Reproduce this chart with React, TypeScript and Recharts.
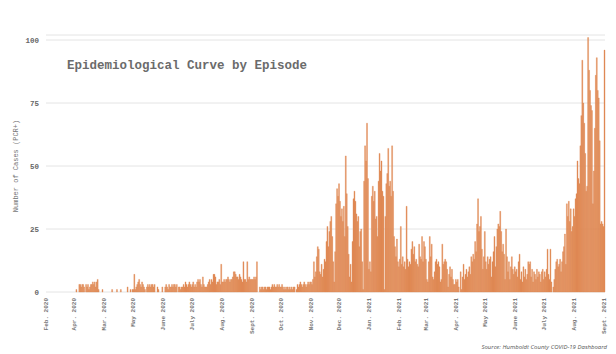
import { Bar, BarChart, CartesianGrid, XAxis, YAxis } from "recharts";

// daily PCR+ cases, one array per month, starting Feb 1 2020
const feb20 = [0,0,0,0,0,0,0,0,0,0, 0,0,0,0,0,0,0,0,0,0, 0,0,0,0,0,0,0,0,0];
const mar20 = [0,0,1,0,0,3,3,2,3,3, 2,0,3,2,3,1,2,3,3,4, 3,4,2,4,5,1,0,0,0,1, 0];
const apr20 = [0,0,0,0,0,0,0,0,1,0, 0,0,0,1,0,0,0,1,0,0, 0,0,0,0,2,0,0,1,0,1];
const may20 = [1,7,1,2,3,4,5,3,2,4, 3,2,1,0,2,3,2,3,2,3, 3,2,3,0,0,2,1,0,0,0, 2];
const jun20 = [0,0,2,3,2,1,3,2,2,3, 2,3,3,2,3,0,2,2,1,2, 2,3,2,4,3,2,3,4,3,2];
const jul20 = [3,4,2,3,2,4,5,4,5,3, 2,6,3,2,2,2,3,4,5,3, 5,4,7,7,6,3,4,4,5,3, 11];
const aug20 = [4,4,5,4,5,5,6,5,4,5, 5,6,8,8,7,6,6,5,7,6, 5,4,12,5,5,4,12,5,6,5, 5];
const sep20 = [5,5,6,5,6,12,0,0,2,1, 2,2,1,2,2,1,2,2,2,1, 2,3,2,3,2,2,3,2,3,2];
const oct20 = [2,3,2,1,2,1,2,2,1,2, 1,2,1,2,2,0,1,3,2,3, 4,3,2,3,4,3,2,3,4,3, 4];
const nov20 = [4,3,5,12,6,8,14,18,17,8, 7,11,6,9,13,12,20,26,18,24, 28,30,22,12,4,16,35,41,38,43];
const dec20 = [36,30,33,28,34,22,54,39,26,15, 6,11,4,20,37,40,36,31,28,30, 18,24,25,12,1,44,58,52,67,45, 9];
const jan21 = [12,8,38,42,36,40,29,30,22,44, 55,48,52,40,38,1,30,43,47,57, 42,44,38,58,40,22,18,14,21,12, 10];
const feb21 = [13,26,11,14,10,12,9,34,13,10, 12,11,17,20,15,18,12,13,11,10, 19,14,13,22,12,20,18,13];
const mar21 = [5,4,12,22,14,19,6,5,8,12, 13,11,12,10,4,5,19,11,12,13, 12,9,2,7,10,6,9,5,3,3, 5];
const apr21 = [4,5,2,0,8,1,6,11,5,7, 9,6,8,10,7,14,12,15,13,20, 16,27,37,24,26,30,17,9,14,24];
const may21 = [12,9,14,11,13,14,6,12,16,22, 10,18,25,27,26,32,24,16,19,15, 5,25,14,8,12,5,10,14,9,7, 10];
const jun21 = [8,9,6,12,15,5,8,4,10,6, 9,5,7,12,11,12,6,9,4,8, 7,5,9,6,8,7,4,8,9,5];
const jul21 = [8,6,9,17,7,5,17,4,0,2, 5,9,12,13,10,11,13,8,12,16, 18,23,11,35,30,36,28,33,24,26, 33];
const aug21 = [30,37,39,52,45,43,58,70,92,75, 67,55,40,42,101,88,80,74,72,35, 48,65,86,93,80,77,60,27,28,27, 26];
const sep21 = [96];

const dailyCases = [
  ...feb20, ...mar20, ...apr20, ...may20, ...jun20, ...jul20, ...aug20,
  ...sep20, ...oct20, ...nov20, ...dec20, ...jan21, ...feb21, ...mar21,
  ...apr21, ...may21, ...jun21, ...jul21, ...aug21, ...sep21,
];

const monthStarts = [
  "2020-02-01", "2020-03-01", "2020-04-01", "2020-05-01", "2020-06-01",
  "2020-07-01", "2020-08-01", "2020-09-01", "2020-10-01", "2020-11-01",
  "2020-12-01", "2021-01-01", "2021-02-01", "2021-03-01", "2021-04-01",
  "2021-05-01", "2021-06-01", "2021-07-01", "2021-08-01", "2021-09-01",
];

// labels exactly as printed on the original
const monthLabels = [
  "Feb. 2020", "Apr. 2020", "Mar. 2020", "May 2020", "June 2020",
  "July 2020", "Aug. 2020", "Sept. 2020", "Oct. 2020", "Nov. 2020",
  "Dec. 2020", "Jan. 2021", "Feb. 2021", "Mar. 2021", "Apr. 2021",
  "May 2021", "June 2021", "July 2021", "Aug. 2021", "Sept. 2021",
];

const yTicks = [0, 25, 50, 75, 100];

const MONO = "'Liberation Mono', 'DejaVu Sans Mono', monospace";
const BAR = "#e08752";

const dayKey = (i: number) =>
  new Date(Date.UTC(2020, 1, 1 + i)).toISOString().slice(0, 10);

const data = dailyCases.map((cases, i) => ({ date: dayKey(i), cases }));

function MonthTick({ x, y, payload }: any) {
  const label = monthLabels[monthStarts.indexOf(payload.value)] ?? "";
  return (
    <text
      x={x}
      y={y}
      transform={`rotate(-90 ${x} ${y})`}
      textAnchor="end"
      dominantBaseline="central"
      fontSize={6}
      fontFamily={MONO}
      fontWeight="bold"
      fill="#777"
    >
      {label}
    </text>
  );
}

export default function App() {
  return (
    <div
      style={{
        position: "absolute",
        left: 0,
        top: 0,
        width: 616,
        height: 354,
        background: "#fff",
        overflow: "hidden",
      }}
    >
      <BarChart
        width={616}
        height={354}
        data={data}
        margin={{ top: 35, right: 11, bottom: 0, left: 0 }}
        barCategoryGap={0}
      >
        <CartesianGrid vertical={false} stroke="#e4e4e4" />
        <XAxis
          dataKey="date"
          ticks={monthStarts}
          interval={0}
          height={62}
          axisLine={false}
          tickLine={false}
          tickSize={0}
          tickMargin={6}
          tick={<MonthTick />}
        />
        <YAxis
          domain={[0, 102]}
          ticks={yTicks}
          width={46}
          axisLine={false}
          tickLine={false}
          tickSize={0}
          tickMargin={7}
          tick={{ fill: "#666", fontSize: 7.5, fontFamily: MONO, fontWeight: "bold" }}
        />
        <Bar
          dataKey="cases"
          fill={BAR}
          stroke={BAR}
          strokeWidth={0.35}
          isAnimationActive={false}
        />
      </BarChart>

      <div
        style={{
          position: "absolute",
          left: 67,
          top: 59,
          fontFamily: MONO,
          fontWeight: "bold",
          fontSize: 12.5,
          color: "#6b6b6b",
          whiteSpace: "nowrap",
        }}
      >
        Epidemiological Curve by Episode
      </div>

      <div
        style={{
          position: "absolute",
          left: 16,
          top: 166,
          transform: "translate(-50%, -50%) rotate(-90deg)",
          fontFamily: MONO,
          fontSize: 7,
          color: "#777",
          whiteSpace: "nowrap",
        }}
      >
        Number of Cases (PCR+)
      </div>

      <div
        style={{
          position: "absolute",
          right: 9,
          top: 343,
          fontFamily: "'Open Sans', sans-serif",
          fontStyle: "italic",
          fontSize: 6,
          color: "#555",
          whiteSpace: "nowrap",
        }}
      >
        Source: Humboldt County COVID-19 Dashboard
      </div>
    </div>
  );
}
